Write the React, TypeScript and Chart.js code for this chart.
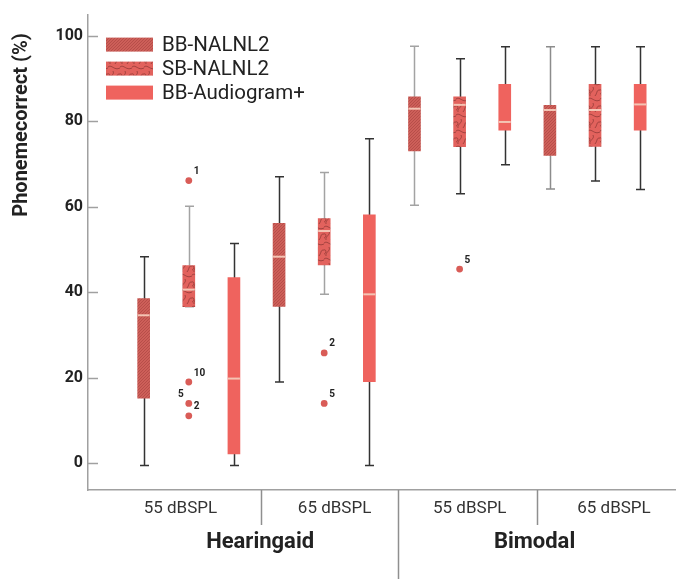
import React, { useEffect, useRef } from "react";
import { Chart, registerables } from "chart.js";

Chart.register(...registerables);

// ---------------- data ----------------
const groupLabels = ["55 dBSPL", "65 dBSPL", "55 dBSPL", "65 dBSPL"];
const conditionLabels = ["Hearingaid", "Bimodal"];
const seriesNames = ["BB-NALNL2", "SB-NALNL2", "BB-Audiogram+"];
const yTickValues = [0, 20, 40, 60, 80, 100];
const yTitle = "Phonemecorrect (%)";

// five-number summaries per group: [min, q1, median, q3, max]
const bbNalnl2 = [
  [-0.5, 15.2, 34.6, 38.5, 48.3],
  [19.0, 36.7, 48.3, 56.1, 67.0],
  [60.3, 73.0, 82.9, 85.7, 97.5],
  [64.1, 72.0, 82.6, 83.7, 97.4],
];
const sbNalnl2 = [
  [36.6, 36.6, 40.6, 46.2, 60.1],
  [39.5, 46.4, 54.3, 57.2, 68.0],
  [63.0, 74.0, 83.8, 85.7, 94.6],
  [66.0, 74.1, 82.6, 88.6, 97.4],
];
const bbAudiogram = [
  [-0.5, 2.2, 19.8, 43.4, 51.4],
  [-0.5, 19.1, 39.5, 58.1, 75.9],
  [69.8, 77.9, 79.8, 88.6, 97.4],
  [64.0, 77.9, 83.9, 88.6, 97.4],
];

// outliers
const outlierGroup = [0, 0, 0, 0, 1, 1, 2];
const outlierSeries = [1, 1, 1, 1, 1, 1, 1];
const outlierValue = [66.1, 19.0, 14.0, 11.1, 25.8, 14.0, 45.4];
const outlierCase = ["1", "10", "5", "2", "2", "5", "5"];

// ---------------- layout / style ----------------
const W = 679;
const H = 579;
const X_MIN = -1.233;
const X_MAX = 11.785;
const Y_MIN = -6.25;
const Y_MAX = 104.9;
const tierPos = [0.815, 4.23, 7.225, 10.42];
const conditionPos = [2.58, 8.66];
const separatorPos = [2.6, 5.64, 8.72];
const separatorMajor = [false, true, false];
const outlierSide = [1, 1, -1, 1, 1, 1, 1];
const whiskerColors = [
  "#333333", "#a3a3a3", "#333333",
  "#333333", "#a3a3a3", "#333333",
  "#a3a3a3", "#333333", "#333333",
  "#8c8c8c", "#333333", "#333333",
];
const BOX_W = 12;
const CAP_HALF = 4.5;
const AXIS_COLOR = "#a0a0a0";
const TEXT_COLOR = "#222222";
const FONT = "Roboto";

const seriesStats = [bbNalnl2, sbNalnl2, bbAudiogram];

function makePatterns(): (CanvasPattern | string)[] {
  // BB-NALNL2: fine diagonal hatch
  const a = document.createElement("canvas");
  a.width = 3;
  a.height = 3;
  const ac = a.getContext("2d")!;
  ac.fillStyle = "#cd5f59";
  ac.fillRect(0, 0, 3, 3);
  ac.fillStyle = "rgba(175,72,68,0.75)";
  ac.fillRect(0, 2, 1, 1);
  ac.fillRect(1, 1, 1, 1);
  ac.fillRect(2, 0, 1, 1);

  // SB-NALNL2: wavy swirl texture
  const b = document.createElement("canvas");
  b.width = 12;
  b.height = 16;
  const bc = b.getContext("2d")!;
  bc.fillStyle = "#e2625d";
  bc.fillRect(0, 0, 12, 16);
  bc.strokeStyle = "rgba(105,38,36,0.65)";
  bc.lineWidth = 0.8;
  bc.beginPath();
  bc.moveTo(0, 3);
  bc.bezierCurveTo(4, 0, 6, 7, 12, 4);
  bc.moveTo(2, 16);
  bc.bezierCurveTo(1, 12, 7, 11, 5, 7);
  bc.moveTo(7, 16);
  bc.bezierCurveTo(10, 12, 8, 10, 12, 10);
  bc.moveTo(0, 10);
  bc.bezierCurveTo(2, 9, 3, 13, 0, 14);
  bc.stroke();

  const pa = ac.createPattern(a, "repeat")!;
  const pb = bc.createPattern(b, "repeat")!;
  return [pa, pb, "#ef635e"];
}

export default function App() {
  const ref = useRef<HTMLCanvasElement | null>(null);

  useEffect(() => {
    document.body.style.margin = "0";
    const canvas = ref.current;
    if (!canvas) return;
    const fills = makePatterns();

    const boxDatasets = seriesStats.map((stats, s) => ({
      type: "bar" as const,
      label: seriesNames[s],
      data: stats.map((st, g) => ({ x: g * 3 + s, y: [st[1], st[3]] })),
      backgroundColor: fills[s],
      borderWidth: 0,
      barThickness: BOX_W,
      grouped: false,
      order: 2,
    }));

    const outlierDataset = {
      type: "scatter" as const,
      label: "outliers",
      data: outlierValue.map((v, i) => ({
        x: outlierGroup[i] * 3 + outlierSeries[i],
        y: v,
      })),
      pointRadius: 3.4,
      pointHoverRadius: 3.4,
      backgroundColor: "#d95c57",
      borderWidth: 0,
      order: 1,
    };

    const extras = {
      id: "boxExtras",
      beforeDatasetsDraw(chart: any) {
        const { ctx } = chart;
        const x = chart.scales.x;
        const y = chart.scales.y;
        ctx.save();
        ctx.lineWidth = 1.5;
        seriesStats.forEach((stats, s) =>
          stats.forEach((st, g) => {
            const idx = g * 3 + s;
            const px = Math.round(x.getPixelForValue(idx)) + 0.5;
            const pMin = y.getPixelForValue(st[0]);
            const pMax = y.getPixelForValue(st[4]);
            ctx.strokeStyle = whiskerColors[idx];
            ctx.beginPath();
            ctx.moveTo(px, pMin);
            ctx.lineTo(px, pMax);
            ctx.moveTo(px - CAP_HALF, pMin);
            ctx.lineTo(px + CAP_HALF, pMin);
            ctx.moveTo(px - CAP_HALF, pMax);
            ctx.lineTo(px + CAP_HALF, pMax);
            ctx.stroke();
          })
        );
        ctx.restore();
      },
      afterDatasetsDraw(chart: any) {
        const { ctx } = chart;
        const x = chart.scales.x;
        const y = chart.scales.y;
        ctx.save();
        // medians
        ctx.strokeStyle = "#f4c4b4";
        ctx.lineWidth = 2;
        seriesStats.forEach((stats, s) =>
          stats.forEach((st, g) => {
            const px = x.getPixelForValue(g * 3 + s);
            const py = y.getPixelForValue(st[2]);
            ctx.beginPath();
            ctx.moveTo(px - BOX_W / 2, py);
            ctx.lineTo(px + BOX_W / 2, py);
            ctx.stroke();
          })
        );
        // outlier case labels
        ctx.fillStyle = TEXT_COLOR;
        ctx.font = `bold 10px ${FONT}`;
        ctx.textBaseline = "middle";
        outlierValue.forEach((v, i) => {
          const px = x.getPixelForValue(outlierGroup[i] * 3 + outlierSeries[i]);
          const py = y.getPixelForValue(v);
          const side = outlierSide[i];
          ctx.textAlign = side > 0 ? "left" : "right";
          ctx.fillText(outlierCase[i], px + side * 5, py - 9);
        });
        ctx.restore();
      },
      afterDraw(chart: any) {
        const { ctx, chartArea } = chart;
        const x = chart.scales.x;
        const y = chart.scales.y;
        ctx.save();
        // inward y tick marks
        ctx.strokeStyle = AXIS_COLOR;
        ctx.lineWidth = 1.5;
        yTickValues.forEach((v) => {
          const py = Math.round(y.getPixelForValue(v)) + 0.5;
          ctx.beginPath();
          ctx.moveTo(chartArea.left, py);
          ctx.lineTo(chartArea.left + 10, py);
          ctx.stroke();
        });
        // separators under x axis
        ctx.strokeStyle = "#8f8f8f";
        separatorPos.forEach((v, i) => {
          const px = Math.round(x.getPixelForValue(v)) + 0.5;
          ctx.beginPath();
          ctx.moveTo(px, chartArea.bottom);
          ctx.lineTo(px, separatorMajor[i] ? H : chartArea.bottom + 35);
          ctx.stroke();
        });
        // condition labels
        ctx.fillStyle = TEXT_COLOR;
        ctx.font = `bold 22px ${FONT}`;
        ctx.textAlign = "center";
        ctx.textBaseline = "middle";
        conditionLabels.forEach((t, i) => {
          ctx.fillText(t, x.getPixelForValue(conditionPos[i]), chartArea.bottom + 52);
        });
        // y axis title
        ctx.save();
        ctx.translate(22, 125);
        ctx.rotate(-Math.PI / 2);
        ctx.font = `bold 20px ${FONT}`;
        ctx.fillText(yTitle, 0, 0);
        ctx.restore();
        // legend
        ctx.font = `20.5px ${FONT}`;
        ctx.textAlign = "left";
        seriesNames.forEach((name, s) => {
          const cy = chartArea.top + 30 + s * 24;
          const lx = chartArea.left + 18;
          ctx.fillStyle = fills[s] as any;
          ctx.fillRect(lx, cy - 7, 47, 14);
          ctx.fillStyle = TEXT_COLOR;
          ctx.fillText(name, lx + 56, cy + 1);
        });
        ctx.restore();
      },
    };

    const chart = new Chart(canvas, {
      type: "bar",
      data: { datasets: [...boxDatasets, outlierDataset] as any },
      options: {
        responsive: false,
        animation: false,
        devicePixelRatio: 1,
        layout: { padding: { top: 10, right: 0, left: 0, bottom: 0 } },
        plugins: {
          legend: { display: false },
          tooltip: { enabled: false },
        },
        scales: {
          x: {
            type: "linear",
            offset: false,
            min: X_MIN,
            max: X_MAX,
            afterBuildTicks: (s: any) => {
              s.ticks = tierPos.map((v) => ({ value: v }));
            },
            afterFit: (s: any) => {
              s.height = H - 490;
            },
            ticks: {
              autoSkip: false,
              maxRotation: 0,
              padding: 9,
              color: "#333333",
              font: { family: FONT, size: 17 },
              callback: (_v: any, i: number) => groupLabels[i],
            },
            grid: { display: false, drawTicks: false, offset: false },
            border: { color: AXIS_COLOR, width: 1.5 },
          },
          y: {
            type: "linear",
            min: Y_MIN,
            max: Y_MAX,
            afterBuildTicks: (s: any) => {
              s.ticks = yTickValues.map((v) => ({ value: v }));
            },
            afterFit: (s: any) => {
              s.width = 88;
            },
            ticks: {
              padding: 5,
              color: TEXT_COLOR,
              font: { family: FONT, size: 16, weight: "bold" },
            },
            grid: { display: false, drawTicks: false },
            border: { color: AXIS_COLOR, width: 1.5 },
          },
        },
      },
      plugins: [extras],
    } as any);

    return () => chart.destroy();
  }, []);

  return <canvas ref={ref} width={W} height={H} style={{ display: "block" }} />;
}
